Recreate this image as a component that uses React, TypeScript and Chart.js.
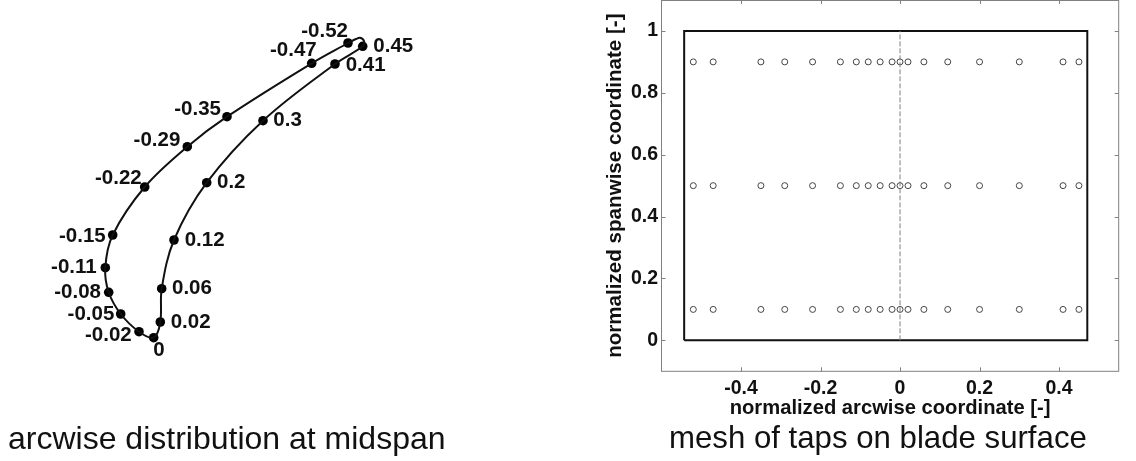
import React, { useEffect, useRef } from "react";
import { Chart, registerables } from "chart.js";

Chart.register(...registerables);

const FONT = "'Liberation Sans', Arial, sans-serif";

// Taps at midspan, arcwise coordinate and position on the blade section
const arcLabels = ["-0.52","-0.47","-0.35","-0.29","-0.22","-0.15","-0.11","-0.08","-0.05","-0.02","0","0.02","0.06","0.12","0.2","0.3","0.41","0.45"];
const bladeX = [348,311.7,227,187.3,144.7,112.7,105.3,108.7,120.7,139,153.7,160.3,161.7,174,206.7,263,335,362.7];
const bladeY = [418,397.7,344.3,314.3,274,226,193.3,168.7,147,129.3,123.3,139,172.3,221,278.3,340.3,397,414.7];
// Blade tip, from the pressure side round to the suction side
const tipX = [364,360,356];
const tipY = [420,423.3,422];

// Mesh of taps
const arcwise = [-0.52,-0.47,-0.35,-0.29,-0.22,-0.15,-0.11,-0.08,-0.05,-0.02,0,0.02,0.06,0.12,0.2,0.3,0.41,0.45];
const spanwise = [0.1,0.5,0.9];
const xTicks = [-0.4,-0.2,0,0.2,0.4];
const yTicks = [0,0.2,0.4,0.6,0.8,1];
const bladeRectX = [-0.543,0.471,0.471,-0.543,-0.543];
const bladeRectY = [0,0,1,1,0];
const centerX = [0,0];
const centerY = [0,1];

// Where each label sits relative to its tap: [dx, dy, align]
const labelPlacement: [number, number, CanvasTextAlign][] = [
  [0,-12,"right"],[5,-13,"right"],[-6,-7,"right"],[-7,-6,"right"],[-3,-9,"right"],[-7,1,"right"],[-8.6,0,"right"],[-7.7,0,"right"],[-6.4,0,"right"],[-7.3,4,"right"],
  [11,13,"right"],[10.4,0,"left"],[10.3,0,"left"],[10.7,0,"left"],[10.3,0,"left"],[10.3,0,"left"],[10.7,1,"left"],[10.6,0,"left"],
];

const tapLabelsPlugin = {
  id: "tapLabels",
  afterDatasetsDraw(chart: any) {
    const meta = chart.getDatasetMeta(1);
    const ctx = chart.ctx;
    ctx.save();
    ctx.font = `bold 20.5px ${FONT}`;
    ctx.fillStyle = "#111";
    ctx.textBaseline = "middle";
    meta.data.forEach((pt: any, i: number) => {
      const [dx, dy, align] = labelPlacement[i];
      ctx.textAlign = align;
      ctx.fillText(arcLabels[i], pt.x + dx, pt.y + dy);
    });
    ctx.restore();
  },
};

const framePlugin = {
  id: "frame",
  afterDatasetsDraw(chart: any) {
    const { ctx, chartArea: a, scales } = chart;
    const len = 4;
    ctx.save();
    ctx.strokeStyle = "#808080";
    ctx.lineWidth = 1;
    ctx.strokeRect(a.left, a.top + 0.5, a.right - a.left, a.bottom - a.top - 0.5);
    ctx.beginPath();
    xTicks.forEach((v) => {
      const x = Math.round(scales.x.getPixelForValue(v)) + 0.5;
      ctx.moveTo(x, a.top); ctx.lineTo(x, a.top + len);
      ctx.moveTo(x, a.bottom); ctx.lineTo(x, a.bottom - len);
    });
    yTicks.forEach((v) => {
      const y = Math.round(scales.y.getPixelForValue(v)) + 0.5;
      ctx.moveTo(a.left, y); ctx.lineTo(a.left + len, y);
      ctx.moveTo(a.right, y); ctx.lineTo(a.right - len, y);
    });
    ctx.stroke();
    ctx.restore();
  },
};

export default function App() {
  const leftRef = useRef<HTMLCanvasElement>(null);
  const rightRef = useRef<HTMLCanvasElement>(null);

  useEffect(() => {
    const taps = bladeX.map((x, i) => ({ x, y: bladeY[i] }));
    const tip = tipX.map((x, i) => ({ x, y: tipY[i] }));
    const left = new Chart(leftRef.current!, {
      type: "scatter",
      data: {
        datasets: [
          {
            data: [...taps, ...tip, taps[0]],
            showLine: true,
            borderColor: "#111",
            borderWidth: 2,
            tension: 0.35,
            pointRadius: 0,
            fill: false,
          },
          {
            data: taps,
            showLine: false,
            pointRadius: 4.8,
            pointBackgroundColor: "#000",
            pointBorderWidth: 0,
          },
        ],
      },
      options: {
        animation: false,
        responsive: false,
        layout: { padding: 0, autoPadding: false },
        plugins: { legend: { display: false }, tooltip: { enabled: false } },
        scales: {
          x: { type: "linear", display: false, min: 0, max: 600 },
          y: { type: "linear", display: false, min: 0, max: 461 },
        },
      },
      plugins: [tapLabelsPlugin],
    } as any);

    const tapMesh = spanwise.flatMap((y) => arcwise.map((x) => ({ x, y })));
    const right = new Chart(rightRef.current!, {
      type: "scatter",
      data: {
        datasets: [
          {
            data: centerX.map((x, i) => ({ x, y: centerY[i] })),
            showLine: true,
            borderColor: "#808080",
            borderWidth: 1,
            borderDash: [5, 2],
            pointRadius: 0,
          },
          {
            data: bladeRectX.map((x, i) => ({ x, y: bladeRectY[i] })),
            showLine: true,
            borderColor: "#111",
            borderWidth: 2,
            pointRadius: 0,
          },
          {
            data: tapMesh,
            showLine: false,
            pointRadius: 3,
            pointBackgroundColor: "rgba(0,0,0,0)",
            pointBorderColor: "#444",
            pointBorderWidth: 1,
          },
        ],
      },
      options: {
        animation: false,
        responsive: false,
        layout: { padding: { top: 0, right: 17.3, left: 0, bottom: 0 }, autoPadding: false },
        plugins: { legend: { display: false }, tooltip: { enabled: false } },
        scales: {
          x: {
            type: "linear",
            min: -0.6,
            max: 0.55,
            grid: { display: false, tickLength: 0 },
            border: { display: false },
            afterBuildTicks: (s: any) => { s.ticks = xTicks.map((value) => ({ value })); },
            afterFit: (s: any) => { s.height = 59.7; s.paddingLeft = 0; s.paddingRight = 0; },
            ticks: {
              color: "#111",
              font: { family: FONT, size: 19.5, weight: "bold" },
              padding: 6,
              maxRotation: 0,
              callback: (v: any) => String(v),
            },
            title: {
              display: true,
              text: "normalized arcwise coordinate [-]",
              color: "#111",
              font: { family: FONT, size: 20.2, weight: "bold" },
              padding: { top: 0, bottom: 10 },
            },
          },
          y: {
            type: "linear",
            min: -0.1,
            max: 1.1,
            grid: { display: false, tickLength: 0 },
            border: { display: false },
            afterBuildTicks: (s: any) => { s.ticks = yTicks.map((value) => ({ value })); },
            afterFit: (s: any) => { s.width = 61.5; s.paddingTop = 0; s.paddingBottom = 0; },
            ticks: {
              color: "#111",
              font: { family: FONT, size: 19.5, weight: "bold" },
              padding: 3.5,
              callback: (v: any) => String(v),
            },
            title: {
              display: true,
              text: "normalized spanwise coordinate [-]",
              color: "#111",
              font: { family: FONT, size: 20.6, weight: "bold" },
              padding: { top: 3, bottom: 0 },
            },
          },
        },
      },
      plugins: [framePlugin],
    } as any);

    return () => {
      left.destroy();
      right.destroy();
    };
  }, []);

  const caption = (text: string, l: number, size: number, top: number): React.ReactNode => (
    <div
      style={{
        position: "absolute",
        left: l,
        top,
        font: `${size}px ${FONT}`,
        lineHeight: 1.15,
        color: "#111",
        whiteSpace: "nowrap",
      }}
    >
      {text}
    </div>
  );

  return (
    <div style={{ position: "absolute", left: 0, top: 0, width: 1136, height: 461, background: "#fff", overflow: "hidden" }}>
      <canvas ref={leftRef} width={600} height={461} style={{ position: "absolute", left: 0, top: 0 }} />
      <canvas ref={rightRef} width={536} height={431} style={{ position: "absolute", left: 600, top: 0 }} />
      {caption("arcwise distribution at midspan", 8, 32, 420)}
      {caption("mesh of taps on blade surface", 669, 31.2, 420)}
    </div>
  );
}
